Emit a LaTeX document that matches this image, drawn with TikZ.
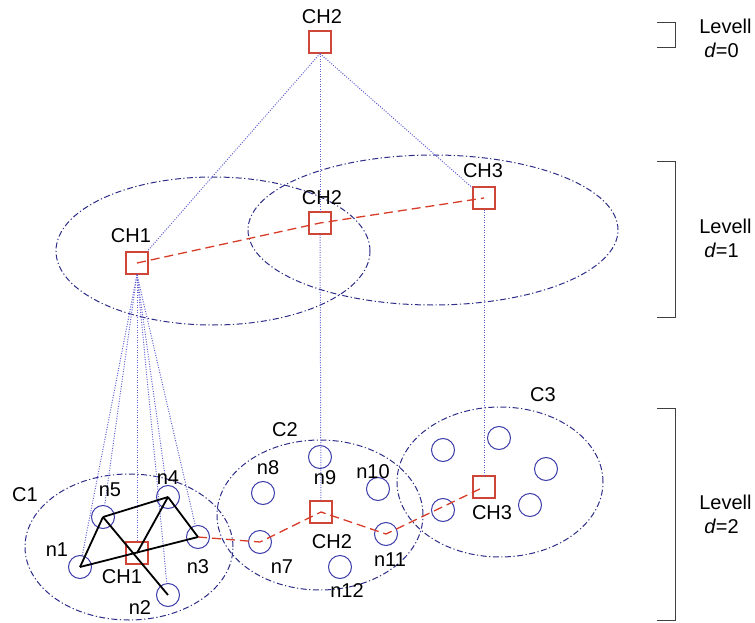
\documentclass[tikz,border=0pt]{standalone}
\usepackage{fontspec}
\setmainfont{Liberation Sans}

\definecolor{chred}{RGB}{205,70,55}
\definecolor{snblue}{RGB}{60,60,170}
\definecolor{clublue}{RGB}{45,45,135}
\definecolor{linkblue}{RGB}{95,95,210}
\definecolor{pathred}{RGB}{215,60,40}

\begin{document}
\begin{tikzpicture}[x=1pt,y=-1pt,semithick,
                    font=\fontsize{20}{23}\selectfont]
  \tikzstyle{head}=[draw=chred,rectangle,minimum size=22pt,inner sep=0pt,line width=1.2pt]
  \tikzstyle{sensor}=[draw=snblue,circle,minimum size=23pt,inner sep=0pt,line width=1pt]
  \tikzstyle{cluster}=[draw=clublue,line width=1pt,dash pattern=on 6pt off 2.5pt on 1.2pt off 2.5pt]
  \tikzstyle{member}=[draw=linkblue,line width=1pt,dash pattern=on 1pt off 1.5pt]
  \tikzstyle{route}=[draw=pathred,line width=1.3pt,dash pattern=on 9pt off 5pt]
  \tikzstyle{link}=[draw=black,line width=1.8pt]
  \tikzstyle{lvbrace}=[draw=black!75,line width=0.9pt]
  \tikzstyle{tag}=[inner sep=0pt]

  \useasboundingbox (0,0) rectangle (755,623);

  % clusters
  \draw[cluster] (213,251) ellipse [x radius=157pt, y radius=74pt];
  \draw[cluster] (433,230) ellipse [x radius=185pt, y radius=75pt];
  \draw[cluster] (129,547) ellipse [x radius=104pt, y radius=73pt];
  \draw[cluster] (320,515) ellipse [x radius=103pt, y radius=75pt];
  \draw[cluster] (500,482) ellipse [x radius=103pt, y radius=75pt];

  % level 0 and 1 heads
	\node[head]	(t0)	at (320,42)	{};
	\node[head]	(b1)	at (137,263)	{};
	\node[head]	(b2)	at (320,223)	{};
	\node[head]	(b3)	at (484,198)	{};

  % level 2, C1
	\node[head]	(q1)	at (137,553)	{};
	\node[sensor]	(n1)	at (80,567)	{};
	\node[sensor]	(n2)	at (168,595)	{};
	\node[sensor]	(n3)	at (198,537)	{};
	\node[sensor]	(n4)	at (168,497)	{};
	\node[sensor]	(n5)	at (103,517)	{};
  % C2
	\node[head]	(q2)	at (321,512)	{};
	\node[sensor]	(n7)	at (260,542)	{};
	\node[sensor]	(n8)	at (263,493)	{};
	\node[sensor]	(n9)	at (320,457)	{};
	\node[sensor]	(n10)	at (378,489)	{};
	\node[sensor]	(n11)	at (386,534)	{};
	\node[sensor]	(n12)	at (340,567)	{};
  % C3
	\node[head]	(q3)	at (484,487)	{};
	\node[sensor]	(m1)	at (443,450)	{};
	\node[sensor]	(m2)	at (499,438)	{};
	\node[sensor]	(m3)	at (546,469)	{};
	\node[sensor]	(m4)	at (530,505)	{};
	\node[sensor]	(m5)	at (443,510)	{};

	\path[member]
		(t0.south) edge (b1)
		           edge (b2)
		           edge (b3)
		(b1.south) edge (n1)
		           edge (n5)
		           edge (q1)
		           edge (n4)
		           edge (n3)
		           edge (n2)
		(b2) edge (q2)
		(b3) edge (q3);

	\draw[route] (b1.center) -- (b2.center) -- (b3.center);
	\draw[route] (n3.center) -- (n7.center) -- (q2.center)
	             -- (n11.center) -- (q3.center);

	\path[link]
		(n1.center) edge (n5.center)
		            edge (n3.center)
		(n5.center) edge (n4.center)
		            edge (n2.center)
		(n4.center) edge (n3.center)
		            edge (q1.center);

  % labels
	\node[tag]	(lt0)	at (322,17)	{CH2};
	\node[tag]	(lb1)	at (131,236)	{CH1};
	\node[tag]	(lb2)	at (322,198)	{CH2};
	\node[tag]	(lb3)	at (483,171)	{CH3};
	\node[tag]	(lc1)	at (25,495)	{C1};
	\node[tag]	(lc2)	at (285,430)	{C2};
	\node[tag]	(lc3)	at (543,395)	{C3};
	\node[tag]	(lq1)	at (122,577)	{CH1};
	\node[tag]	(lq2)	at (332,542)	{CH2};
	\node[tag]	(lq3)	at (492,513)	{CH3};
	\node[tag]	(ln1)	at (57,550)	{n1};
	\node[tag]	(ln2)	at (140,608)	{n2};
	\node[tag]	(ln3)	at (198,567)	{n3};
	\node[tag]	(ln4)	at (168,478)	{n4};
	\node[tag]	(ln5)	at (110,490)	{n5};
	\node[tag]	(ln7)	at (282,567)	{n7};
	\node[tag]	(ln8)	at (268,468)	{n8};
	\node[tag]	(ln9)	at (325,478)	{n9};
	\node[tag]	(ln10)	at (373,472)	{n10};
	\node[tag]	(ln11)	at (390,560)	{n11};
	\node[tag]	(ln12)	at (347,591)	{n12};

  % levels
  \draw[lvbrace] (657,22) -- (675,22) -- (675,47) -- (657,47);
  \draw[lvbrace] (657,161) -- (675,161) -- (675,317) -- (657,317);
  \draw[lvbrace] (657,408) -- (675,408) -- (675,620) -- (657,620);
	\node[tag,anchor=west]	(lv0)	at (699,26)	{Levell};
	\node[tag,anchor=west]	(ld0)	at (704,50)	{\textit{d}=0};
	\node[tag,anchor=west]	(lv1)	at (699,226)	{Levell};
	\node[tag,anchor=west]	(ld1)	at (704,250)	{\textit{d}=1};
	\node[tag,anchor=west]	(lv2)	at (699,502)	{Levell};
	\node[tag,anchor=west]	(ld2)	at (704,526)	{\textit{d}=2};

\end{tikzpicture}
\end{document}
